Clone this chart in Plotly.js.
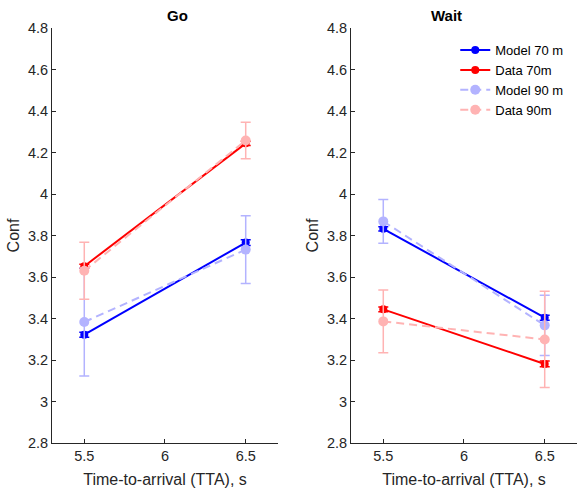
<!DOCTYPE html>
<html>
<head>
<meta charset="utf-8">
<script src="https://cdn.plot.ly/plotly-3.0.1.min.js"></script>
<style>
  html, body { margin: 0; padding: 0; background: #fff; }
  #chart { width: 577px; height: 494px; }
</style>
</head>
<body>
<div id="chart"></div>
<script>
// Time-to-arrival conditions (s)
const tta = [5.5, 6.5];

// Go condition: mean confidence and error half-widths
const goModel70 = [3.322, 3.766];
const goModel70Err = [0.012, 0.014];
const goData70 = [3.652, 4.244];
const goData70Err = [0.010, 0.010];
const goModel90 = [3.383, 3.732];
const goModel90Err = [0.260, 0.163];
const goData90 = [3.630, 4.258];
const goData90Err = [0.137, 0.088];

// Wait condition
const waitModel70 = [3.832, 3.404];
const waitModel70Err = [0.010, 0.012];
const waitData70 = [3.444, 3.181];
const waitData70Err = [0.012, 0.014];
const waitModel90 = [3.868, 3.367];
const waitModel90Err = [0.105, 0.145];
const waitData90 = [3.386, 3.299];
const waitData90Err = [0.151, 0.232];

// Axis ticks
const xTickVals = [5.5, 6, 6.5];
const xTickText = ['5.5', '6', '6.5'];
const yTickVals = [2.8, 3, 3.2, 3.4, 3.6, 3.8, 4, 4.2, 4.4, 4.6, 4.8];
const yTickText = ['2.8', '3', '3.2', '3.4', '3.6', '3.8', '4', '4.2', '4.4', '4.6', '4.8'];

const seriesNames = ['Model 70 m', 'Data 70m', 'Model 90 m', 'Data 90m'];

const styles = [
  { color: '#0000ff', dash: 'solid', size: 8 },
  { color: '#ff0000', dash: 'solid', size: 8 },
  { color: '#b3b3ff', dash: '8px,5px', size: 10 },
  { color: '#ffb3b3', dash: '8px,5px', size: 10 }
];

function makeTrace(y, err, idx, xa, ya, showLegend) {
  const s = styles[idx];
  return {
    type: 'scatter',
    mode: 'lines+markers',
    x: tta,
    y: y,
    xaxis: xa,
    yaxis: ya,
    name: seriesNames[idx],
    legendgroup: seriesNames[idx],
    showlegend: showLegend,
    line: { color: s.color, width: 2, dash: s.dash },
    marker: { color: s.color, size: s.size, symbol: 'circle' },
    error_y: {
      type: 'data', array: err, visible: true,
      color: s.color, thickness: 1.5, width: 5
    }
  };
}

const traces = [
  makeTrace(goModel70, goModel70Err, 0, 'x', 'y', false),
  makeTrace(goData70, goData70Err, 1, 'x', 'y', false),
  makeTrace(goModel90, goModel90Err, 2, 'x', 'y', false),
  makeTrace(goData90, goData90Err, 3, 'x', 'y', false),
  makeTrace(waitModel70, waitModel70Err, 0, 'x2', 'y2', true),
  makeTrace(waitData70, waitData70Err, 1, 'x2', 'y2', true),
  makeTrace(waitModel90, waitModel90Err, 2, 'x2', 'y2', true),
  makeTrace(waitData90, waitData90Err, 3, 'x2', 'y2', true)
];

const fontFamily = 'Liberation Sans, Arial, sans-serif';
const axisFont = { family: fontFamily, size: 14.5, color: '#262626' };
const labelFont = { family: fontFamily, size: 16, color: '#262626' };

function xAxis(domain, anchor) {
  return {
    domain: domain, anchor: anchor,
    range: [5.3, 6.7],
    tickvals: xTickVals, ticktext: xTickText,
    ticks: 'inside', ticklen: 4, tickcolor: '#262626',
    showline: true, linecolor: '#262626', linewidth: 1,
    showgrid: false, zeroline: false,
    tickfont: axisFont,
    title: { text: 'Time-to-arrival (TTA), s', font: labelFont, standoff: 10 }
  };
}

function yAxis(anchor) {
  return {
    domain: [0, 1], anchor: anchor,
    range: [2.8, 4.8],
    tickvals: yTickVals, ticktext: yTickText,
    ticks: 'inside', ticklen: 4, tickcolor: '#262626',
    showline: true, linecolor: '#262626', linewidth: 1,
    showgrid: false, zeroline: false,
    tickfont: axisFont,
    title: { text: 'Conf', font: labelFont, standoff: 4 }
  };
}

const layout = {
  width: 577,
  height: 494,
  margin: { l: 0, r: 0, t: 28, b: 51 },
  paper_bgcolor: '#ffffff',
  plot_bgcolor: '#ffffff',
  font: { family: fontFamily, color: '#262626' },
  xaxis: xAxis([0.0901, 0.4818], 'y'),
  yaxis: yAxis('x'),
  xaxis2: xAxis([0.6083, 1.0], 'y2'),
  yaxis2: yAxis('x2'),
  showlegend: true,
  legend: {
    x: 0.789, y: 0.983, xanchor: 'left', yanchor: 'top',
    bgcolor: 'rgba(255,255,255,0)',
    font: { family: fontFamily, size: 13, color: '#000000' },
    tracegroupgap: 0
  },
  annotations: [
    { text: '<b>Go</b>', xref: 'paper', yref: 'paper', x: 0.286, y: 1, yanchor: 'bottom', yshift: 2,
      showarrow: false, font: { family: fontFamily, size: 15, color: '#000000' } },
    { text: '<b>Wait</b>', xref: 'paper', yref: 'paper', x: 0.804, y: 1, yanchor: 'bottom', yshift: 2,
      showarrow: false, font: { family: fontFamily, size: 15, color: '#000000' } }
  ]
};

Plotly.newPlot('chart', traces, layout, { displayModeBar: false, staticPlot: true });
</script>
</body>
</html>
